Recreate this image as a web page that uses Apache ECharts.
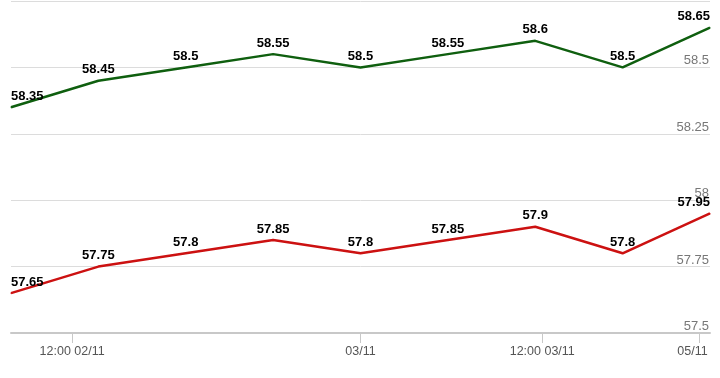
<!DOCTYPE html>
<html>
<head>
<meta charset="utf-8">
<script src="https://cdn.jsdelivr.net/npm/echarts@6/dist/echarts.min.js"></script>
<style>
  html, body { margin: 0; padding: 0; background: #fff; }
  #chart { width: 720px; height: 378px; }
</style>
</head>
<body>
<div id="chart"></div>
<script>
// values, one per sample (evenly spaced)
var greenValues = [58.35, 58.45, 58.5, 58.55, 58.5, 58.55, 58.6, 58.5, 58.65];
var redValues = [57.65, 57.75, 57.8, 57.85, 57.8, 57.85, 57.9, 57.8, 57.95];

// x tick labels and where they sit, in sample index units
var tickLabels = ['12:00 02/11', '03/11', '12:00 03/11', '05/11'];
var tickIndex = [0.7, 4, 6.08, 7.88];

var fontFamily = 'Arial, "Liberation Sans", sans-serif';

function buildData(values) {
    var last = values.length - 1;
    return values.map(function (v, i) {
        var item = {value: [i, v]};
        // keep the end labels inside the plot
        if (i === 0) {
            item.label = {align: 'left'};
        } else if (i === last) {
            item.label = {align: 'right'};
        }
        return item;
    });
}

function lineSeries(name, values, color) {
    return {
        name: name,
        type: 'line',
        data: buildData(values),
        symbol: 'circle',
        symbolSize: 1,
        itemStyle: {color: color},
        lineStyle: {color: color, width: 2.5},
        label: {
            show: true,
            position: 'top',
            distance: 4,
            color: '#000',
            fontSize: 13,
            fontWeight: 'bold',
            fontFamily: fontFamily
        },
        animation: false
    };
}

var dom = document.getElementById('chart');
var myChart = echarts.init(dom);
var option = {
    backgroundColor: '#fff',
    animation: false,
    grid: {left: 11, right: 10, top: 1, bottom: 45},
    xAxis: {
        type: 'value',
        min: 0,
        max: greenValues.length - 1,
        axisLine: {show: true, lineStyle: {color: '#c8c8c8', width: 2}},
        axisTick: {
            show: true,
            customValues: tickIndex,
            length: 10,
            lineStyle: {color: '#c8c8c8', width: 1}
        },
        axisLabel: {
            customValues: tickIndex,
            margin: 12,
            color: '#555',
            fontSize: 12.5,
            fontFamily: fontFamily,
            formatter: function (v) {
                var k = tickIndex.indexOf(v);
                if (k < 0) {
                    return '';
                }
                // last label is pulled back inside the edge
                return k === tickLabels.length - 1 ? '{end|' + tickLabels[k] + '}' : tickLabels[k];
            },
            rich: {
                end: {
                    color: '#555',
                    fontSize: 12.5,
                    fontFamily: fontFamily,
                    padding: [0, 14, 0, 0]
                }
            }
        },
        splitLine: {show: false}
    },
    yAxis: {
        type: 'value',
        position: 'right',
        min: 57.5,
        max: 58.75,
        interval: 0.25,
        axisLine: {show: false},
        axisTick: {show: false},
        axisLabel: {
            inside: true,
            margin: 1,
            verticalAlign: 'bottom',
            showMaxLabel: false,
            color: '#777',
            fontSize: 13,
            fontFamily: fontFamily
        },
        splitLine: {lineStyle: {color: '#dcdcdc', width: 1}}
    },
    series: [
        lineSeries('green', greenValues, '#0f5f0f'),
        lineSeries('red', redValues, '#cc1111')
    ]
};

if (option && typeof option === "object") {
    myChart.setOption(option, true);
}
</script>
</body>
</html>
